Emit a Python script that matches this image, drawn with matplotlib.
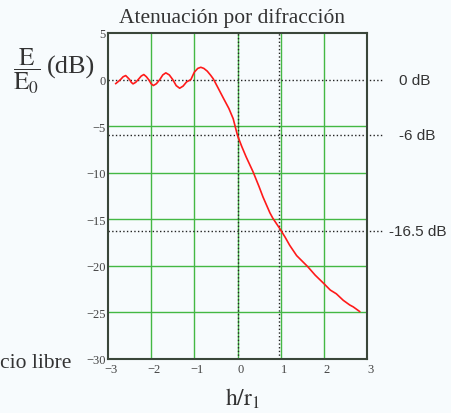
import numpy as np
import matplotlib
matplotlib.use('Agg')
import matplotlib.pyplot as plt
from matplotlib.transforms import ScaledTranslation

plt.rcParams['mathtext.fontset'] = 'stix'
plt.rcParams['font.family'] = ['Liberation Serif', 'DejaVu Serif']

# curve: h/r1 vs. E/E0 (dB)
h_r1 = [-2.82, -2.76, -2.71, -2.65, -2.59, -2.54, -2.50, -2.46, -2.42, -2.36,
        -2.30, -2.23, -2.17, -2.11, -2.06, -2.00, -1.95, -1.88, -1.80, -1.73,
        -1.66, -1.58, -1.50, -1.42, -1.34, -1.26, -1.18, -1.08, -1.00, -0.92,
        -0.85, -0.78, -0.70, -0.62, -0.56, -0.45, -0.33, -0.20, -0.10, 0.00,
        0.10, 0.20, 0.36, 0.50, 0.59, 0.75, 0.82, 0.98, 1.10, 1.21,
        1.37, 1.50, 1.63, 1.80, 2.00, 2.15, 2.29, 2.45, 2.60, 2.68, 2.83]
att_db = [-0.43, -0.20, 0.00, 0.30, 0.43, 0.20, 0.00, -0.30, -0.46, -0.30,
          0.00, 0.38, 0.54, 0.30, 0.00, -0.45, -0.64, -0.45, 0.00, 0.50,
          0.72, 0.50, 0.00, -0.65, -0.93, -0.70, -0.25, 0.00, 0.80, 1.20,
          1.32, 1.20, 0.90, 0.45, 0.07, -0.90, -1.97, -3.10, -4.20, -6.00,
          -7.20, -8.30, -9.90, -11.50, -12.60, -14.30, -14.90, -16.00, -16.90, -17.80,
          -18.90, -19.50, -20.10, -21.00, -21.90, -22.60, -23.00, -23.70, -24.20, -24.40, -24.90]

ref_levels = [0, -6, -16.3]
ref_labels = ['0 dB', '-6 dB', '-16.5 dB']
ref_label_x = [3.73, 3.73, 3.50]
ref_h = [0, 0.95]

x_ticks = [-3, -2, -1, 0, 1, 2, 3]
y_ticks = [5, 0, -5, -10, -15, -20, -25, -30]

bg = '#f7fbfd'
green = '#44b844'
frame = '#3a463a'

fig = plt.figure(figsize=(4.51, 4.14), dpi=100, facecolor=bg)
ax = fig.add_axes([108/451, 54/414, 259/451, 326/414], facecolor=bg)

ax.set_xlim(-3, 3)
ax.set_ylim(-30, 5)
ax.set_xticks(x_ticks)
ax.set_yticks(y_ticks)
ax.tick_params(length=0, labelsize=9, labelcolor='#444444')
ax.tick_params(axis='x', pad=3)
ax.tick_params(axis='y', pad=1.5)
for lab in ax.get_xticklabels():
    lab.set_transform(lab.get_transform() + ScaledTranslation(0.03, 0, fig.dpi_scale_trans))

for xv in x_ticks[1:-1]:
    ax.axvline(xv, color=green, lw=1, zorder=1)
for yv in y_ticks[2:-1]:
    ax.axhline(yv, color=green, lw=1, zorder=1)

for yv in ref_levels:
    ax.plot([-3, 3.35], [yv, yv], color='#222222', lw=1, ls=':', clip_on=False, zorder=2)
for xv in ref_h:
    ax.axvline(xv, color='#222222', lw=1, ls=':', zorder=2)

for lab, yv, xv in zip(ref_labels, ref_levels, ref_label_x):
    ax.text(xv, yv, lab, family=['Liberation Sans', 'DejaVu Sans'], fontsize=11,
            color='#333333', ha='left', va='center', clip_on=False)

ax.plot(h_r1, att_db, color='#ff1a1a', lw=1.2, zorder=3)

for s in ax.spines.values():
    s.set_color(frame)
    s.set_linewidth(1.5)
    s.set_zorder(4)

fig.text(232/451, 1 - 23.5/414, 'Atenuación por difracción', fontsize=15.5,
         color='#333333', ha='center', va='baseline')
fig.text(13/451, 1 - 71/414, r'$\dfrac{\mathrm{E}}{\mathrm{E}_0}$', fontsize=18,
         color='#333333', ha='left', va='center')
fig.text(47/451, 1 - 67/414, '(dB)', fontsize=19,
         color='#333333', ha='left', va='center')
fig.text(225/451, 1 - 406/414, r'$\mathrm{h/r}_1$', fontsize=17,
         color='#333333', ha='left', va='baseline')
fig.text(71/451, 1 - 368/414, 'cio libre', fontsize=15.5,
         color='#333333', ha='right', va='baseline')

fig.savefig('out.png', dpi=100, facecolor=bg)
